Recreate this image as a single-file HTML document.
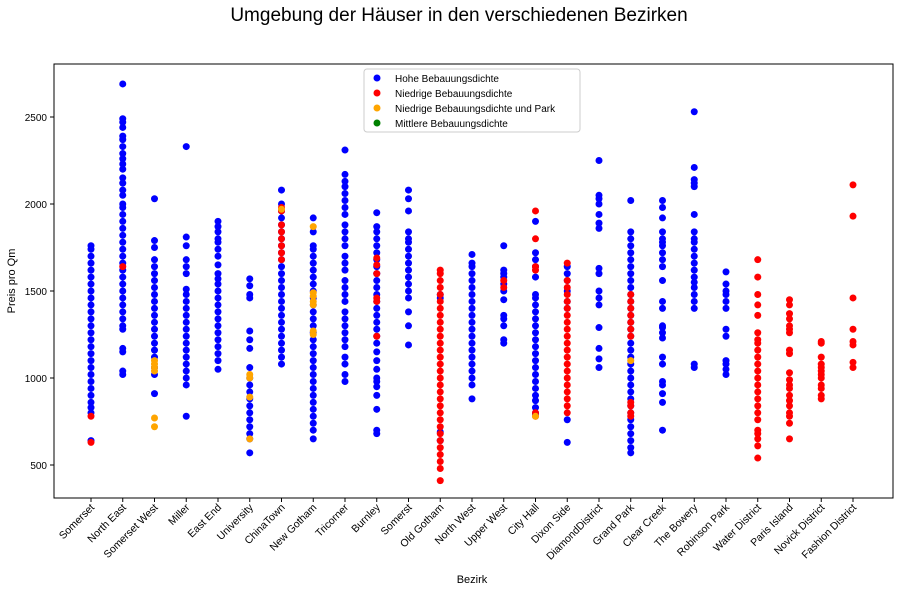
<!DOCTYPE html>
<html><head><meta charset="utf-8">
<style>
body{margin:0;background:#fff;}
svg{display:block;font-family:"Liberation Sans","DejaVu Sans",sans-serif;}
</style></head>
<body>
<svg id="chart" width="897" height="592">
<text x="459" y="21" text-anchor="middle" font-size="19">Umgebung der Häuser in den verschiedenen Bezirken</text>
<rect x="54" y="64" width="839" height="434" fill="none" stroke="#000" stroke-width="1"/>
<g id="yaxis"></g>
<g id="xaxis"></g>
<g id="marks"></g>
<text x="472" y="583" text-anchor="middle" font-size="11">Bezirk</text>
<text transform="translate(15,281) rotate(-90)" text-anchor="middle" font-size="11">Preis pro Qm</text>
<g>
<rect x="364" y="69" width="216" height="63" fill="#fff" stroke="#ccc" rx="3"/>
<g><circle cx="377" cy="78" r="3.5" fill="blue"/><text x="395" y="82" font-size="10">Hohe Bebauungsdichte</text></g>
<g><circle cx="377" cy="93" r="3.5" fill="red"/><text x="395" y="97" font-size="10">Niedrige Bebauungsdichte</text></g>
<g><circle cx="377" cy="108" r="3.5" fill="orange"/><text x="395" y="112" font-size="10">Niedrige Bebauungsdichte und Park</text></g>
<g><circle cx="377" cy="123" r="3.5" fill="green"/><text x="395" y="127" font-size="10">Mittlere Bebauungsdichte</text></g>
</g>
</svg>
<script>
const categories=["Somerset","North East","Somerset West","Miller","East End","University","ChinaTown","New Gotham","Tricorner","Burnley","Somerst","Old Gotham","North West","Upper West","City Hall","Dixon Side","DiamondDistrict","Grand Park","Clear Creek","The Bowery","Robinson Park","Water District","Paris Island","Novick District","Fashion District"];
const yTicks=[500,1000,1500,2000,2500];
const hohe=[
[640,800,830,860,900,940,980,1020,1060,1100,1140,1180,1220,1260,1300,1340,1380,1420,1460,1500,1540,1580,1620,1660,1700,1740,1760],
[1020,1040,1150,1170,1280,1300,1340,1380,1420,1460,1500,1540,1580,1620,1660,1700,1740,1780,1820,1860,1900,1940,1980,2000,2050,2080,2120,2150,2200,2230,2260,2290,2330,2370,2390,2440,2470,2490,2690],
[910,1020,1060,1120,1160,1200,1240,1280,1320,1360,1400,1440,1480,1520,1560,1600,1640,1680,1750,1790,2030],
[780,960,1000,1040,1080,1120,1160,1200,1240,1280,1320,1360,1400,1440,1480,1510,1600,1640,1680,1760,1810,2330],
[1050,1100,1140,1180,1220,1260,1300,1340,1380,1420,1460,1500,1540,1570,1600,1650,1700,1740,1780,1800,1840,1870,1900],
[570,650,680,720,760,800,840,880,920,960,1000,1060,1170,1220,1270,1460,1480,1530,1570],
[1080,1120,1160,1200,1240,1280,1320,1360,1400,1440,1480,1520,1560,1600,1640,1680,1720,1760,1800,1840,1880,1920,1960,2000,2080],
[650,700,740,780,820,860,900,940,980,1020,1060,1100,1140,1180,1220,1260,1300,1340,1380,1420,1460,1500,1540,1580,1620,1660,1700,1740,1760,1840,1920],
[980,1020,1080,1120,1180,1220,1260,1300,1340,1380,1440,1480,1520,1560,1620,1660,1700,1760,1800,1840,1880,1940,1980,2020,2060,2100,2130,2170,2310],
[680,700,820,900,950,980,1000,1050,1100,1150,1200,1240,1280,1320,1360,1400,1440,1480,1520,1560,1600,1640,1680,1720,1760,1800,1840,1870,1950],
[1190,1300,1380,1460,1500,1540,1580,1620,1660,1700,1740,1780,1800,1840,1960,2030,2080],
[640,690,1460,1480],
[880,960,1000,1040,1080,1120,1160,1200,1240,1280,1320,1360,1400,1440,1480,1520,1560,1600,1640,1660,1710],
[1200,1220,1300,1340,1360,1450,1500,1540,1580,1600,1620,1760],
[790,800,830,870,900,940,980,1020,1060,1100,1140,1180,1220,1260,1300,1340,1380,1420,1460,1480,1580,1640,1680,1720,1900],
[630,760,1400,1440,1500,1560,1600,1640],
[1060,1110,1170,1290,1420,1460,1500,1600,1630,1860,1890,1940,2000,2030,2050,2250],
[570,600,640,680,720,760,800,840,880,920,960,1000,1040,1080,1120,1160,1200,1240,1280,1320,1360,1400,1440,1480,1520,1560,1600,1640,1680,1720,1760,1800,1840,2020],
[700,860,910,960,980,1080,1120,1230,1260,1290,1300,1400,1440,1560,1640,1680,1720,1760,1780,1800,1840,1920,1980,2020],
[1060,1080,1400,1440,1480,1520,1550,1580,1620,1660,1700,1740,1780,1800,1840,1940,2100,2120,2140,2210,2530],
[1020,1050,1080,1100,1240,1280,1400,1440,1480,1500,1540,1610],
[],[],[],[]];
const niedrige=[
[630,780],[1640],[],[],[],[],
[1680,1720,1760,1800,1840,1880,1960,1980],[],[],
[1240,1440,1460,1600,1650,1690],[],
[410,480,520,560,600,640,680,720,760,800,840,880,920,960,1000,1040,1080,1120,1160,1200,1240,1280,1320,1360,1400,1440,1480,1520,1560,1600,1620],
[],[1520,1560],[780,800,1620,1640,1800,1960],
[800,840,880,920,960,1000,1040,1080,1120,1160,1200,1240,1280,1320,1360,1400,1440,1480,1520,1560,1660],
[],[780,800,840,860,1240,1280,1320,1360,1400,1440,1480],[],[],[],
[540,610,650,680,700,760,800,840,880,920,960,1000,1040,1080,1120,1160,1200,1220,1260,1360,1420,1480,1580,1680],
[650,740,780,800,840,870,900,940,960,990,1030,1140,1160,1260,1280,1300,1340,1370,1420,1450],
[880,900,940,960,1000,1020,1040,1060,1080,1120,1200,1210],
[1060,1090,1190,1210,1280,1460,1930,2110]];
const niedrigePark=[[],[],[720,770,1040,1060,1080,1100],[],[],[650,890,1000,1020],[1970],[1250,1270,1420,1440,1470,1490,1870],[],[],[],[],[],[],[780],[],[],[1100],[],[],[],[],[],[],[]];
const mittlere=[];

const NS="http://www.w3.org/2000/svg";
function xPos(i){return 91+i*31.75;}
function yPos(v){return 465-(v-500)*0.174;}
const ya=document.getElementById('yaxis'),xa=document.getElementById('xaxis'),mk=document.getElementById('marks');
yTicks.forEach(t=>{
 const l=document.createElementNS(NS,'line');
 l.setAttribute('x1',50);l.setAttribute('x2',54);l.setAttribute('y1',yPos(t));l.setAttribute('y2',yPos(t));l.setAttribute('stroke','#000');
 
 
 ya.appendChild(l);
 const tx=document.createElementNS(NS,'text');
 tx.setAttribute('x',47);tx.setAttribute('y',yPos(t)+4);tx.setAttribute('text-anchor','end');tx.setAttribute('font-size','10');tx.textContent=t;
 
 
 ya.appendChild(tx);
});
categories.forEach((c,i)=>{
 const x=xPos(i);
 const l=document.createElementNS(NS,'line');
 l.setAttribute('x1',x);l.setAttribute('x2',x);l.setAttribute('y1',498);l.setAttribute('y2',502);l.setAttribute('stroke','#000');
 
 
 xa.appendChild(l);
 const tx=document.createElementNS(NS,'text');
 tx.setAttribute('transform','translate('+(x+4)+',508) rotate(-45)');
 tx.setAttribute('text-anchor','end');tx.setAttribute('font-size','10.5');tx.textContent=c;
 
 
 xa.appendChild(tx);
});
function draw(series,color,name){
 series.forEach((vals,i)=>{vals.forEach(v=>{
  const c=document.createElementNS(NS,'circle');
  c.setAttribute('cx',xPos(i));c.setAttribute('cy',yPos(v));c.setAttribute('r',3.5);c.setAttribute('fill',color);
  
  
  mk.appendChild(c);
 });});
}
draw(hohe,'blue','point-hohe');
draw(niedrige,'red','point-niedrige');
draw(niedrigePark,'orange','point-niedrige-park');
draw(mittlere,'green','point-mittlere');
</script>
</body></html>
